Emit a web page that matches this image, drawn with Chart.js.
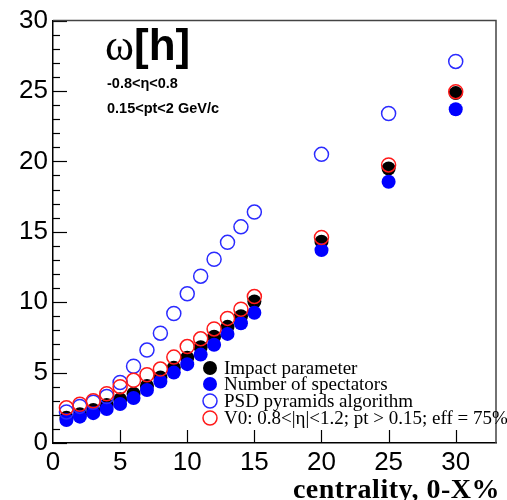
<!DOCTYPE html>
<html>
<head>
<meta charset="utf-8">
<script src="https://cdn.jsdelivr.net/npm/chart.js@4/dist/chart.umd.min.js"></script>
<style>
  html, body { margin: 0; padding: 0; background: #fff; }
  #wrap { width: 507px; height: 500px; }
</style>
</head>
<body>
<div id="wrap"><canvas id="chart-canvas" width="507" height="500"></canvas></div>
<script>
// centrality classes 0-X %
const centrality = [1, 2, 3, 4, 5, 6, 7, 8, 9, 10, 11, 12, 13, 14, 15, 20, 25, 30];

// scaled variance omega[h] for each centrality estimator
const impactParam = [1.8, 2.05, 2.35, 2.7, 3.1, 3.5, 4.05, 4.65, 5.35, 6.05, 6.8, 7.55, 8.25, 9.0, 10.05, 14.3, 19.5, 24.85];
const spectators = [1.63, 1.87, 2.12, 2.42, 2.77, 3.2, 3.76, 4.37, 5.0, 5.6, 6.28, 6.98, 7.75, 8.5, 9.25, 13.7, 18.55, 23.7];
const psdPyramids = [2.2, 2.6, 2.9, 3.3, 4.3, 5.45, 6.6, 7.8, 9.2, 10.6, 11.85, 13.05, 14.25, 15.35, 16.4, 20.5, 23.4, 27.1];
const v0Estimator = [2.5, 2.75, 3.0, 3.5, 4.0, 4.45, 4.85, 5.25, 6.1, 6.85, 7.4, 8.1, 8.85, 9.5, 10.4, 14.6, 19.75, 24.95];

const xTickLabels = [0, 5, 10, 15, 20, 25, 30];

const legendLabels = [
    'Impact parameter',
    'Number of spectators',
    'PSD pyramids algorithm',
    'V0: 0.8<|\u03b7|<1.2; pt > 0.15; eff = 75%'
];

const sans = '"Liberation Sans", Arial, Helvetica, sans-serif';
const serif = '"Liberation Serif", "Times New Roman", serif';

function points(values) {
    return centrality.map((c, i) => ({ x: c, y: values[i] }));
}

const markerStyles = [
    { fill: '#000000', stroke: '#000000', filled: true },
    { fill: '#0000ff', stroke: '#0000ff', filled: true },
    { fill: 'rgba(0,0,0,0)', stroke: '#2b2bff', filled: false },
    { fill: 'rgba(0,0,0,0)', stroke: '#ff1a1a', filled: false }
];

// ROOT-like frame: inward ticks, top/right border, labels and legend
const rootFrame = {
    id: 'rootFrame',
    afterDatasetsDraw(chart) {
        const ctx = chart.ctx;
        const { left, right, top, bottom } = chart.chartArea;
        const xs = chart.scales.x;
        const ys = chart.scales.y;

        ctx.save();
        ctx.strokeStyle = '#000';
        ctx.lineWidth = 1.2;

        // y ticks
        for (let v = 0; v <= 30; v++) {
            const py = Math.round(ys.getPixelForValue(v)) + 0.5;
            const len = v % 5 === 0 ? 14 : 7;
            ctx.beginPath();
            ctx.moveTo(left, py);
            ctx.lineTo(left + len, py);
            ctx.stroke();
        }
        // x ticks
        xTickLabels.slice(1).forEach(v => {
            const px = Math.round(xs.getPixelForValue(v)) + 0.5;
            ctx.beginPath();
            ctx.moveTo(px, bottom);
            ctx.lineTo(px, bottom - 13);
            ctx.stroke();
        });

        // top and right frame lines
        ctx.strokeStyle = '#444';
        ctx.lineWidth = 1.5;
        ctx.beginPath();
        ctx.moveTo(left, top);
        ctx.lineTo(right, top);
        ctx.lineTo(right, bottom);
        ctx.stroke();

        // title block: omega[h]
        ctx.fillStyle = '#000';
        ctx.textBaseline = 'alphabetic';
        ctx.textAlign = 'left';
        ctx.font = '44px ' + serif;
        ctx.fillText('\u03c9', 105, 60);
        ctx.font = 'bold 44px ' + sans;
        ctx.fillText('[h]', 134, 60);

        ctx.font = 'bold 14.5px ' + sans;
        ctx.fillText('-0.8<\u03b7<0.8', 107, 88);
        ctx.fillText('0.15<pt<2 GeV/c', 107, 113);

        // legend
        const rowsY = [368, 384, 401, 418];
        ctx.font = '19px ' + serif;
        legendLabels.forEach((label, i) => {
            const st = markerStyles[i];
            ctx.beginPath();
            ctx.arc(210, rowsY[i], 7, 0, Math.PI * 2);
            if (st.filled) {
                ctx.fillStyle = st.fill;
                ctx.fill();
            } else {
                ctx.strokeStyle = st.stroke;
                ctx.lineWidth = 1.5;
                ctx.stroke();
            }
            ctx.fillStyle = '#000';
            ctx.fillText(label, 224, rowsY[i] + 6);
        });

        // x axis title
        ctx.font = 'bold 28px ' + serif;
        ctx.letterSpacing = '0.5px';
        ctx.textAlign = 'right';
        ctx.fillText('centrality, 0-X%', 500, 498);
        ctx.restore();
    }
};

function dataset(label, values, style, order) {
    return {
        label: label,
        data: points(values),
        pointRadius: 7,
        pointHoverRadius: 7,
        pointBackgroundColor: style.fill,
        pointBorderColor: style.stroke,
        pointBorderWidth: style.filled ? 0 : 1.5,
        showLine: false,
        order: order
    };
}

const myChart = new Chart(document.getElementById('chart-canvas'), {
    type: 'scatter',
    data: {
        datasets: [
            dataset(legendLabels[0], impactParam, markerStyles[0], 4),
            dataset(legendLabels[1], spectators, markerStyles[1], 3),
            dataset(legendLabels[2], psdPyramids, markerStyles[2], 2),
            dataset(legendLabels[3], v0Estimator, markerStyles[3], 1)
        ]
    },
    options: {
        responsive: false,
        animation: false,
        layout: { padding: { left: 0, top: 18, right: 11, bottom: 0 } },
        plugins: {
            legend: { display: false },
            tooltip: { enabled: false }
        },
        scales: {
            x: {
                type: 'linear',
                min: 0,
                max: 33,
                afterFit: s => { s.height = 57; },
                afterBuildTicks: s => { s.ticks = xTickLabels.map(v => ({ value: v })); },
                grid: { display: false, drawTicks: false },
                border: { display: true, color: '#000', width: 1.5 },
                ticks: {
                    autoSkip: false,
                    maxRotation: 0,
                    padding: 4,
                    color: '#000',
                    font: { family: sans, size: 26 }
                }
            },
            y: {
                type: 'linear',
                min: 0,
                max: 30,
                afterFit: s => { s.width = 53; },
                grid: { display: false, drawTicks: false },
                border: { display: true, color: '#000', width: 1.5 },
                ticks: {
                    stepSize: 5,
                    padding: 5,
                    color: '#000',
                    font: { family: sans, size: 26 }
                }
            }
        }
    },
    plugins: [rootFrame]
});
</script>
</body>
</html>
